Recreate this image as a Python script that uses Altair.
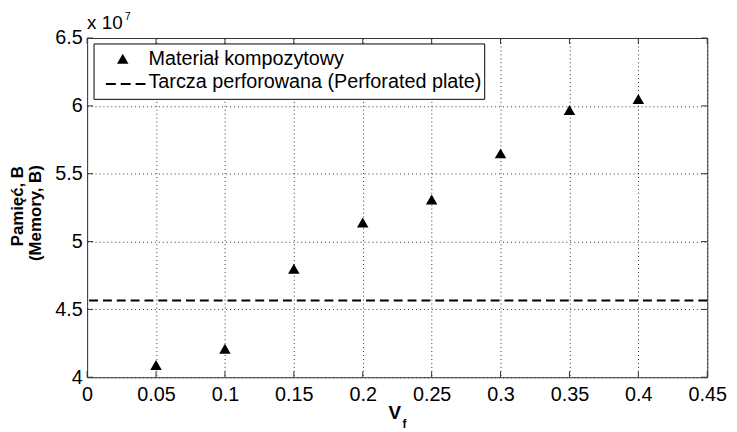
import altair as alt
import pandas as pd

# ---- data ----
vf = [0.05, 0.10, 0.15, 0.20, 0.25, 0.30, 0.35, 0.40]
memory = [4.09e7, 4.21e7, 4.80e7, 5.14e7, 5.31e7, 5.65e7, 5.97e7, 6.05e7]
perforated = 4.565e7
x_ticks = [0, 0.05, 0.1, 0.15, 0.2, 0.25, 0.3, 0.35, 0.4, 0.45]
y_ticks = [4.0e7, 4.5e7, 5.0e7, 5.5e7, 6.0e7, 6.5e7]
legend_labels = ["Materiał kompozytowy", "Tarcza perforowana (Perforated plate)"]
y_title = ["Pamięć, B", "(Memory, B)"]

W, H = 627, 343
FONT = "Liberation Sans"
LBL = 20

pts = pd.DataFrame({"x": vf, "y": memory})
hline = pd.DataFrame({"y": [perforated]})
xt = pd.DataFrame({"x": x_ticks})
yt = pd.DataFrame({"y": y_ticks})
one = pd.DataFrame({"a": [0]})

xscale = alt.Scale(domain=[0, 0.45], nice=False, zero=False)
yscale = alt.Scale(domain=[4.0e7, 6.5e7], nice=False, zero=False)

xaxis = alt.Axis(values=x_ticks, labelExpr="format(datum.value, '~g')", title=None,
                 grid=True, gridDash=[1, 3], gridColor="#333", gridWidth=1,
                 ticks=False, domain=False, labelPadding=8, labelFontSize=LBL,
                 labelFont=FONT, labelColor="black", labelFlush=False,
                 labelOverlap=False, labelBound=False)
yaxis = alt.Axis(values=y_ticks, labelExpr="format(datum.value/1e7, '~g')", title=None,
                 grid=True, gridDash=[1, 3], gridColor="#333", gridWidth=1,
                 ticks=False, domain=False, labelPadding=5, labelFontSize=LBL,
                 labelFont=FONT, labelColor="black", labelFlush=False,
                 labelOverlap=False, labelBound=False)

X = lambda: alt.X("x:Q", scale=xscale, axis=xaxis)
Y = lambda: alt.Y("y:Q", scale=yscale, axis=yaxis)

points = alt.Chart(pts).mark_point(shape="triangle-up", filled=True, color="black",
                                   size=135, opacity=1).encode(x=X(), y=Y())

dashed = alt.Chart(hline).mark_rule(color="black", strokeWidth=2,
                                    strokeDash=[9, 5]).encode(y=Y())

tick_col = "#333"
t_bottom = alt.Chart(xt).mark_rule(color=tick_col).encode(x=X(), y=alt.value(H), y2=alt.value(H - 6))
t_top = alt.Chart(xt).mark_rule(color=tick_col).encode(x=X(), y=alt.value(0), y2=alt.value(6))
t_left = alt.Chart(yt).mark_rule(color=tick_col).encode(y=Y(), x=alt.value(0), x2=alt.value(6))
t_right = alt.Chart(yt).mark_rule(color=tick_col).encode(y=Y(), x=alt.value(W), x2=alt.value(W - 6))

# legend (drawn as a box of marks)
leg_box = alt.Chart(one).mark_rect(fill="white", stroke="black", strokeWidth=1).encode(
    x=alt.value(7), x2=alt.value(402), y=alt.value(6), y2=alt.value(62))
leg_tri = alt.Chart(one).mark_point(shape="triangle-up", filled=True, color="black",
                                    size=135, opacity=1).encode(x=alt.value(36), y=alt.value(21))
leg_line = alt.Chart(one).mark_rule(color="black", strokeWidth=2, strokeDash=[10, 5]).encode(
    x=alt.value(19), x2=alt.value(59), y=alt.value(46.5))
leg_t1 = alt.Chart(one).mark_text(align="left", baseline="alphabetic", font=FONT, fontSize=LBL,
                                  color="black").encode(
    x=alt.value(62), y=alt.value(27), text=alt.value(legend_labels[0]))
leg_t2 = alt.Chart(one).mark_text(align="left", baseline="alphabetic", font=FONT, fontSize=LBL,
                                  color="black").encode(
    x=alt.value(62), y=alt.value(51), text=alt.value(legend_labels[1]))

# multiplier x 10^7
mult = alt.Chart(one).mark_text(align="left", baseline="alphabetic", font=FONT, fontSize=19,
                                color="black").encode(
    x=alt.value(0), y=alt.value(-9), text=alt.value("x 10"))
mult_exp = alt.Chart(one).mark_text(align="left", baseline="alphabetic", font=FONT, fontSize=11,
                                    color="black").encode(
    x=alt.value(38), y=alt.value(-18), text=alt.value("7"))

# axis titles
yt1 = alt.Chart(one).mark_text(angle=270, align="center", baseline="middle", font=FONT,
                               fontSize=17, fontWeight="bold", color="black").encode(
    x=alt.value(-70), y=alt.value(170), text=alt.value(y_title[0]))
yt2 = alt.Chart(one).mark_text(angle=270, align="center", baseline="middle", font=FONT,
                               fontSize=17, fontWeight="bold", color="black").encode(
    x=alt.value(-52), y=alt.value(177), text=alt.value(y_title[1]))
xt_v = alt.Chart(one).mark_text(align="center", baseline="alphabetic", font=FONT,
                                fontSize=19, fontWeight="bold", color="black").encode(
    x=alt.value(311), y=alt.value(385), text=alt.value("V"))
xt_f = alt.Chart(one).mark_text(align="left", baseline="alphabetic", font=FONT,
                                fontSize=12, fontWeight="bold", color="black").encode(
    x=alt.value(319), y=alt.value(394), text=alt.value("f"))

chart = alt.layer(
    t_bottom, t_top, t_left, t_right, dashed, points,
    leg_box, leg_tri, leg_line, leg_t1, leg_t2,
    mult, mult_exp, yt1, yt2, xt_v, xt_f,
).properties(
    width=W, height=H,
    autosize=alt.AutoSizeParams(type="none"),
    padding={"left": 80, "top": 28, "right": 22, "bottom": 53},
    background="white",
).configure_view(stroke="#333", strokeWidth=1)

chart.save("out.html", embed_options={"renderer": "svg", "actions": False})
